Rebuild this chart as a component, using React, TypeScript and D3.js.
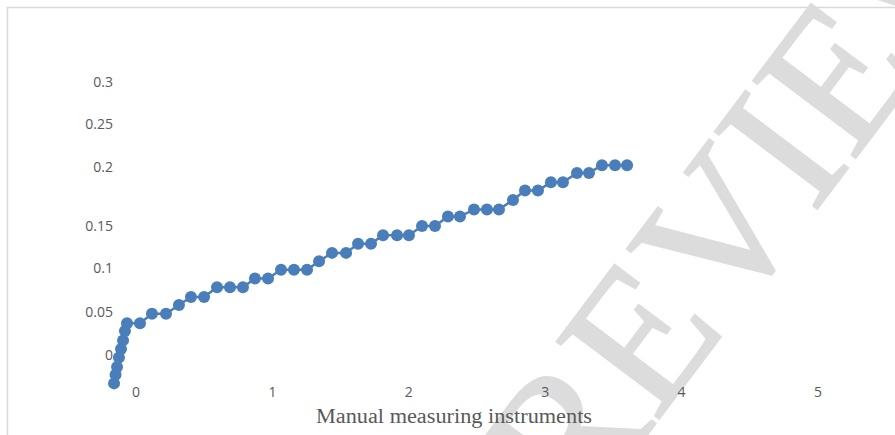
import React from 'react';
import * as d3 from 'd3';

const xValues = [
  -0.161, -0.15, -0.139, -0.125, -0.11, -0.095, -0.081, -0.066,
  0.029, 0.117, 0.22, 0.315, 0.403, 0.499, 0.594, 0.689, 0.784, 0.872,
  0.968, 1.063, 1.158, 1.254, 1.342, 1.437, 1.54, 1.628, 1.723, 1.811,
  1.914, 2.001, 2.097, 2.192, 2.287, 2.375, 2.478, 2.573, 2.661, 2.764,
  2.852, 2.947, 3.042, 3.13, 3.233, 3.321, 3.416, 3.512, 3.6,
];
const yValues = [
  -0.033, -0.023, -0.014, -0.003, 0.007, 0.017, 0.028, 0.037,
  0.037, 0.048, 0.048, 0.058, 0.067, 0.067, 0.078, 0.078, 0.078, 0.088,
  0.088, 0.098, 0.098, 0.098, 0.108, 0.118, 0.118, 0.129, 0.129, 0.139,
  0.139, 0.139, 0.15, 0.15, 0.158, 0.158, 0.164, 0.164, 0.164, 0.172,
  0.18, 0.18, 0.187, 0.187, 0.195, 0.195, 0.202, 0.202, 0.202,
];
const yTicks = [0, 0.05, 0.1, 0.15, 0.2, 0.25, 0.3];
const xTicks = [0, 1, 2, 3, 4, 5];
const xTitle = 'Manual measuring instruments';
const watermark = 'PREVIEW';

const width = 895;
const height = 435;
const color = '#4a7ebb';
const labelColor = '#595959';

const App: React.FC = () => {
  const svgRef = React.useRef<SVGSVGElement>(null);

  React.useEffect(() => {
    const svg = d3.select(svgRef.current);
    svg.selectAll('*').remove();

    const xScale = d3.scaleLinear().domain([0, 5]).range([136, 818]);
    // the original axis is not evenly spaced, so the scale is piecewise
    const yScale = d3.scaleLinear().domain(yTicks).range([355, 312, 268, 226, 167, 124, 82]);

    const points = xValues.map((x, i) => [x, yValues[i]] as [number, number]);

    svg.append('rect')
      .attr('x', 7.5)
      .attr('y', 7.5)
      .attr('width', width + 20)
      .attr('height', height + 20)
      .attr('fill', 'white')
      .attr('stroke', '#d9d9d9')
      .attr('stroke-width', 1.5);

    // watermark sits behind the labels
    svg.append('text')
      .attr('transform', 'translate(722,228) rotate(-53)')
      .attr('dy', '0.33em')
      .attr('text-anchor', 'middle')
      .attr('font-family', 'Liberation Serif, Times New Roman, serif')
      .attr('font-size', 196)
      .attr('fill', '#dcdcdc')
      .attr('stroke', '#dcdcdc')
      .attr('stroke-width', 2)
      .text(watermark);

    svg.append('g')
      .selectAll('text')
      .data(yTicks)
      .join('text')
        .attr('x', 113)
        .attr('y', d => yScale(d))
        .attr('dy', '0.35em')
        .attr('text-anchor', 'end')
        .attr('font-family', 'Open Sans, sans-serif')
        .attr('font-size', 14)
        .attr('fill', labelColor)
        .text(d => String(d));

    svg.append('g')
      .selectAll('text')
      .data(xTicks)
      .join('text')
        .attr('x', d => xScale(d))
        .attr('y', 392)
        .attr('dy', '0.35em')
        .attr('text-anchor', 'middle')
        .attr('font-family', 'Open Sans, sans-serif')
        .attr('font-size', 14)
        .attr('fill', labelColor)
        .text(d => String(d));

    svg.append('text')
      .attr('x', 454)
      .attr('y', 416)
      .attr('dy', '0.35em')
      .attr('text-anchor', 'middle')
      .attr('font-family', 'Liberation Serif, Times New Roman, serif')
      .attr('font-size', 20)
      .attr('textLength', 276)
      .attr('lengthAdjust', 'spacingAndGlyphs')
      .attr('fill', labelColor)
      .text(xTitle);

    const line = d3.line<[number, number]>()
      .x(d => xScale(d[0]))
      .y(d => yScale(d[1]));

    svg.append('path')
      .datum(points)
      .attr('d', line)
      .attr('fill', 'none')
      .attr('stroke', color)
      .attr('stroke-width', 2.5);

    svg.append('g')
      .selectAll('circle')
      .data(points)
      .join('circle')
        .attr('cx', d => xScale(d[0]))
        .attr('cy', d => yScale(d[1]))
        .attr('r', 6)
        .attr('fill', color);
  }, []);

  return (
    <svg
      ref={svgRef}
      width={width}
      height={height}
      style={{ position: 'absolute', left: 0, top: 0, background: 'white' }}
    />
  );
};

export default App;
